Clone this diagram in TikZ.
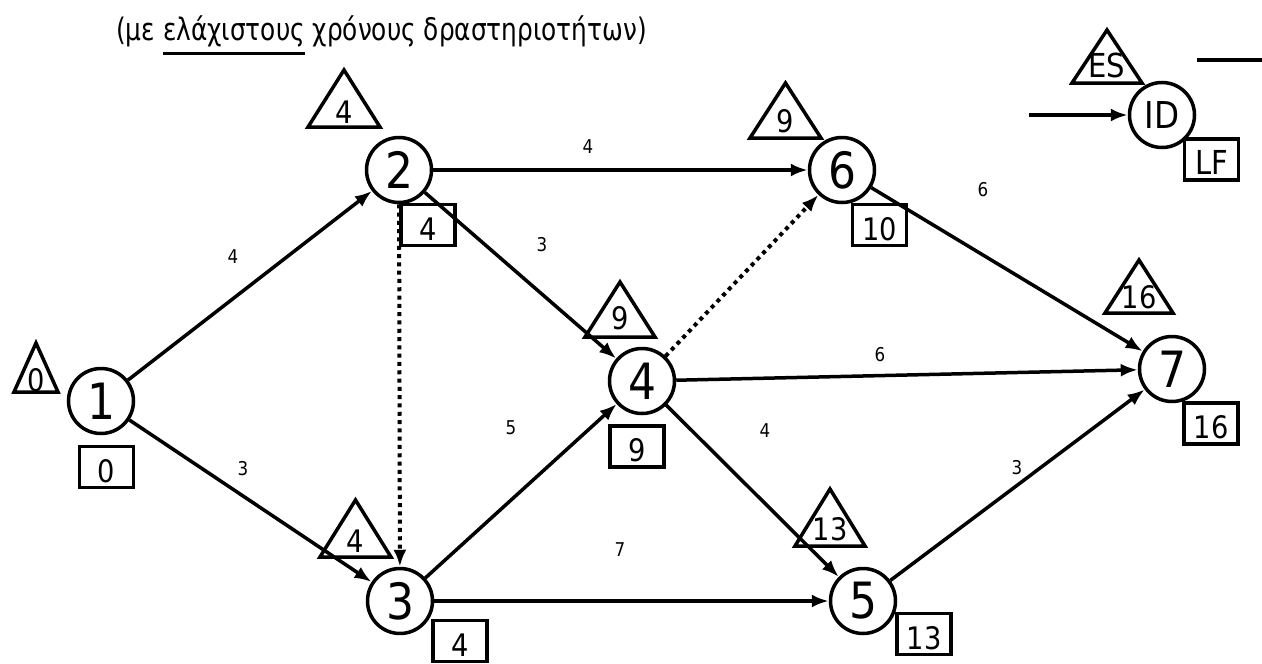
\documentclass[tikz,border=0pt]{standalone}
\usepackage{fontspec}
\setmainfont{DejaVu Sans}[FakeStretch=0.88]
\newfontfamily\titelfont{DejaVu Sans}[FakeStretch=0.8]
\usetikzlibrary{arrows.meta}
\newcommand\unterstr[1]{\setbox0=\hbox{#1}\rlap{\rule[-14.5pt]{\wd0}{3pt}}\box0\relax}
\tikzset{
  ereignis/.style={circle, draw, line width=3.5pt, minimum size=65pt, inner sep=0pt,
    font=\fontsize{50}{50}\selectfont}, % Knoten
  fzeit/.style={inner sep=0pt, font=\fontsize{31}{31}\selectfont}, % ES im Dreieck
  szeit/.style={draw, line width=3.5pt, minimum width=54pt, minimum height=41pt,
    inner sep=0pt, text height=30pt, text depth=0pt,
    font=\fontsize{31}{31}\selectfont}, % LF im Kasten
  dreieck/.style={line width=3.5pt, line join=miter},
  dauer/.style={inner sep=0pt, font=\fontsize{19}{19}\selectfont},
  Pfeil/.style={line width=3.5pt, ->},
  Schein/.style={Pfeil, line width=4pt, dash pattern=on 4pt off 4.3pt} % Scheinvorgang
}
\begin{document}
\begin{tikzpicture}[x=1pt, y=-1pt,
>={Latex[length=17pt,width=13pt]} % Pfeilspitzen
]
\useasboundingbox (0,0) rectangle (1262,664);

%Titel
\node[anchor=base, inner sep=0pt, font=\titelfont\fontsize{31}{31}\selectfont] (titel) at (381.5,40)
  {(με \unterstr{ελάχιστους} χρόνους δραστηριοτήτων)};

%Knoten
\node[ereignis] (n1) at (101,401) {1};
\node[ereignis] (n2) at (399,170) {2};
\node[ereignis] (n3) at (400,601) {3};
\node[ereignis] (n4) at (642,381) {4};
\node[ereignis] (n5) at (863,601) {5};
\node[ereignis] (n6) at (842,170) {6};
\node[ereignis] (n7) at (1172,369) {7};

%Dreiecke (ES)
\foreach \n/\cx/\by/\hw/\h/\ty/\t in {1/36/392/22/49/380/0, 2/344/127/36/57/112/4,
  3/355.5/557/35.5/57/541/4, 4/620/337/35/55/318/9, 5/830/546/35/57/529/13,
  6/785.5/138/35.5/55/121/9, 7/1139/313/34/53/297/16}{%
  \draw[dreieck] (\cx-\hw,\by) -- (\cx+\hw,\by) -- (\cx,\by-\h) -- cycle;
  \node[fzeit] (es\n) at (\cx,\ty) {\t};
}

%Kaesten (LF)
\node[szeit] (lf1) at (106.5,467) {0};
\node[szeit] (lf2) at (428,225) {4};
\node[szeit] (lf3) at (460,641) {4};
\node[szeit] (lf4) at (637,446.5) {9};
\node[szeit] (lf5) at (924,634) {13};
\node[szeit] (lf6) at (879.5,225) {10};
\node[szeit] (lf7) at (1211,423.5) {16};

%Vorgaenge
\draw[Pfeil] (n1) -- (n2);
\draw[Pfeil] (n1) -- (n3);
\draw[Pfeil] (n2) -- (n6);
\draw[Pfeil] (n2) -- (n4);
\draw[Pfeil] (n3) -- (n4);
\draw[Pfeil] (n3) -- (n5);
\draw[Pfeil] (n4) -- (n7);
\draw[Pfeil] (n4) -- (n5);
\draw[Pfeil] (n6) -- (n7);
\draw[Pfeil] (n5) -- (n7);
\draw[Schein] (n2) -- (n3);
\draw[Schein] (n4) -- (n6);

%Dauern
\node[dauer] (d12) at (233,257) {4};
\node[dauer] (d13) at (243,469) {3};
\node[dauer] (d26) at (588,147) {4};
\node[dauer] (d24) at (542,245) {3};
\node[dauer] (d34) at (511,428) {5};
\node[dauer] (d35) at (620,550) {7};
\node[dauer] (d47) at (880,355) {6};
\node[dauer] (d45) at (765,431) {4};
\node[dauer] (d67) at (983,190) {6};
\node[dauer] (d57) at (1017,468) {3};

%Legende
\draw[dreieck] (1072,83) -- (1142,83) -- (1107,30) -- cycle;
\node[fzeit, font=\fontsize{33}{33}\selectfont] (es) at (1107,65) {ES};
\node[ereignis, font=\fontsize{37}{37}\selectfont] (id) at (1162,115) {ID};
\node[szeit, font=\fontsize{33}{33}\selectfont] (lf) at (1211.5,159.5) {LF};
\coordinate (lstart) at (1029,115);
\draw[Pfeil] (lstart) -- (id);
\coordinate (ra) at (1197,60);
\coordinate (rb) at (1262,60);
\draw[line width=3.5pt] (ra) -- (rb);

\end{tikzpicture}
\end{document}
